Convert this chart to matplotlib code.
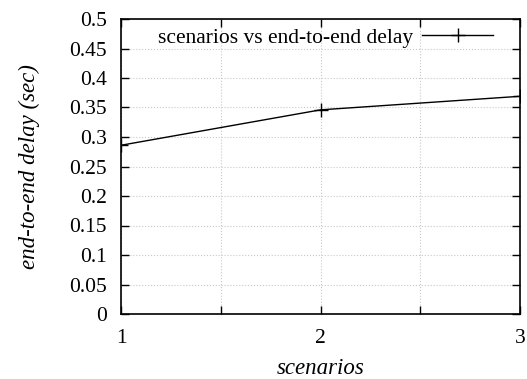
import numpy as np
import matplotlib.pyplot as plt

plt.rcParams['font.family'] = ['Liberation Serif', 'DejaVu Serif']

scenarios = [1, 2, 3]
delay = [0.286, 0.346, 0.369]

fig = plt.figure(figsize=(5.27, 3.79), dpi=100)
ax = fig.add_axes([121 / 527, 1 - 314 / 379, (520 - 121) / 527, (314 - 19) / 379])

ax.plot(scenarios, delay, color="black", lw=1.0, marker="+", ms=10, mew=1.0,
        label="scenarios vs end-to-end delay")

ax.set_xlim(1, 3)
ax.set_ylim(0, 0.5)
ax.set_xticks([1, 1.5, 2, 2.5, 3])
ax.set_xticklabels(["1", "", "2", "", "3"])
yt = np.arange(0, 0.501, 0.05)
ax.set_yticks(yt)
ax.set_yticklabels(["0", "0.05", "0.1", "0.15", "0.2", "0.25", "0.3", "0.35", "0.4", "0.45", "0.5"])
ax.tick_params(direction="in", top=True, right=True, length=6, width=1.0, labelsize=15.5)
ax.tick_params(axis="y", pad=10)
ax.tick_params(axis="x", pad=11)
ax.grid(True, color="#c8c8c8", ls=":", lw=0.8)
for s in ax.spines.values():
    s.set_linewidth(1.2)

ax.set_xlabel("scenarios", fontsize=16.5, style="italic", labelpad=7)
ax.set_ylabel("end-to-end delay (sec)", fontsize=16.5, style="italic", labelpad=21)

ax.legend(loc="upper right", frameon=False, markerfirst=False, fontsize=15.5,
          handlelength=3.3, borderaxespad=0.0, handletextpad=0.4,
          bbox_to_anchor=(0.954, 1.0))

fig.savefig("out.png", dpi=100)
